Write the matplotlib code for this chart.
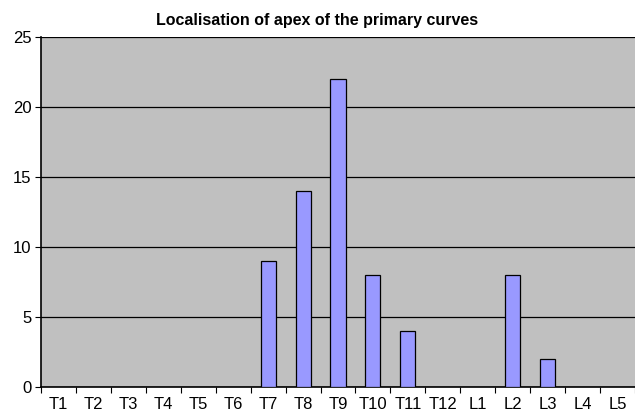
import numpy as np
import matplotlib
matplotlib.use("Agg")
import matplotlib.pyplot as plt

# data
levels = ['T1', 'T2', 'T3', 'T4', 'T5', 'T6', 'T7', 'T8', 'T9', 'T10', 'T11', 'T12',
          'L1', 'L2', 'L3', 'L4', 'L5']
counts = [0, 0, 0, 0, 0, 0, 9, 14, 22, 8, 4, 0, 0, 8, 2, 0, 0]
yticks = [0, 5, 10, 15, 20, 25]

plt.rcParams['font.family'] = ['Liberation Sans', 'DejaVu Sans']

fig = plt.figure(figsize=(6.35, 4.13), dpi=100)
ax = fig.add_axes([41/635, 1 - 387/413, 594/635, 350/413])
ax.set_facecolor('#c0c0c0')

x = np.arange(len(levels))
# only draw non-zero bars (zero bars invisible in reference)
for xi, c in zip(x, counts):
    if c > 0:
        ax.bar(xi, c, width=0.43, color='#9999ff', edgecolor='black', linewidth=0.9, zorder=3)

ax.set_xlim(-0.5, len(levels) - 0.5)
ax.set_ylim(0, 25)
ax.set_yticks(yticks)
ax.yaxis.grid(True, color='black', linewidth=0.9, zorder=1)
ax.set_axisbelow(True)

# x ticks between categories, labels at centers
ax.set_xticks(np.arange(-0.5, len(levels) + 0.5, 1.0))
ax.set_xticklabels([])
ax.set_xticks(x, minor=True)
ax.set_xticklabels(levels, minor=True, fontsize=12)
ax.tick_params(axis='x', which='minor', length=0, pad=7)
ax.tick_params(axis='x', which='major', direction='out', length=4, width=0.8)
ax.tick_params(axis='y', direction='out', length=4, width=0.8, labelsize=12, pad=3)

for s in ['top', 'right']:
    ax.spines[s].set_visible(False)
ax.spines['left'].set_linewidth(1.2)
ax.spines['bottom'].set_linewidth(1.2)

fig.text(0.5, 1 - 21/413, 'Localisation of apex of the primary curves', ha='center', va='center',
         fontsize=11.5, fontweight='bold')

fig.savefig('out.png', dpi=100)
